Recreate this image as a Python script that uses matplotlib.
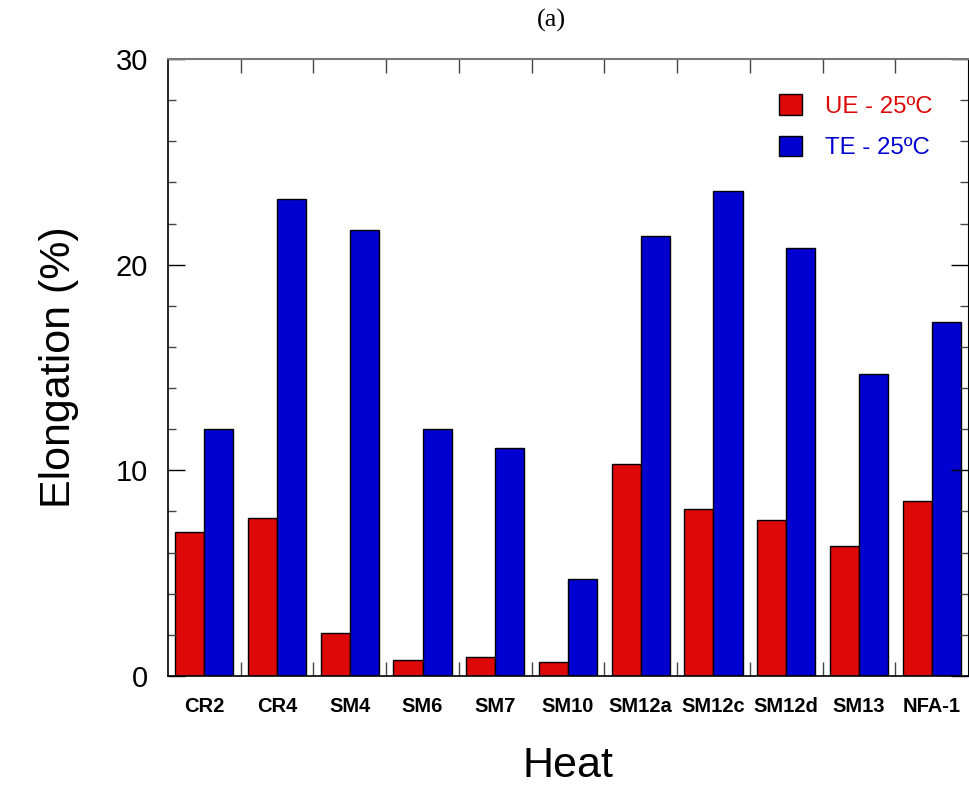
import numpy as np
import matplotlib
matplotlib.use("Agg")
import matplotlib.pyplot as plt
from matplotlib.patches import Patch
from matplotlib.ticker import MultipleLocator, FixedLocator

# Elongation at 25 C for each heat
heats = ['CR2', 'CR4', 'SM4', 'SM6', 'SM7', 'SM10',
         'SM12a', 'SM12c', 'SM12d', 'SM13', 'NFA-1']
ue_25 = [7.0, 7.7, 2.1, 0.8, 0.9, 0.7, 10.3, 8.1, 7.6, 6.3, 8.5]
te_25 = [12.0, 23.2, 21.7, 12.0, 11.1, 4.7, 21.4, 23.6, 20.8, 14.7, 17.2]

color_ue = (221/255, 8/255, 8/255)
color_te = (0/255, 0/255, 208/255)

plt.rcParams['font.family'] = 'Liberation Sans'

fig = plt.figure(figsize=(9.69, 7.86), dpi=100)
ax = fig.add_axes([168/969, 110/786, 800/969, 617/786])

x = np.arange(len(heats))
w = 0.4
ax.bar(x - w/2, ue_25, w, color=color_ue, edgecolor='black', linewidth=1.0)
ax.bar(x + w/2, te_25, w, color=color_te, edgecolor='black', linewidth=1.0)

ax.set_xlim(-0.5, len(heats) - 0.5)
ax.set_ylim(0, 30)

# category labels in the middle, tick marks between groups
ax.set_xticks(x)
ax.set_xticklabels(heats, fontsize=14.5, fontweight='bold')
ax.xaxis.set_minor_locator(FixedLocator(x[:-1] + 0.5))
ax.tick_params(axis='x', which='major', length=0, pad=15)
ax.tick_params(axis='x', which='minor', direction='in', length=10,
               width=1, top=True, bottom=True, color='#444444')

ax.yaxis.set_major_locator(MultipleLocator(10))
ax.yaxis.set_minor_locator(MultipleLocator(2))
ax.tick_params(axis='y', which='major', direction='in', length=12, width=1,
               left=True, right=True, labelsize=21, pad=14.5)
ax.tick_params(axis='y', which='minor', direction='in', length=6, width=1,
               left=True, right=True, color='#444444')

ax.spines['top'].set_color('#777777')
ax.spines['top'].set_linewidth(1.5)
ax.spines['left'].set_linewidth(1.2)
ax.spines['bottom'].set_linewidth(1.2)

ax.set_xlabel('Heat', fontsize=31, labelpad=22)
ax.set_ylabel('Elongation (%)', fontsize=31, labelpad=26)

handles = [Patch(facecolor=color_ue, edgecolor='black'),
           Patch(facecolor=color_te, edgecolor='black')]
ax.legend(handles, ['UE - 25ºC', 'TE - 25ºC'], loc='upper left',
          bbox_to_anchor=(767/969, 1 - 82/786), bbox_transform=fig.transFigure,
          frameon=False, fontsize=17.3, handlelength=0.95, handleheight=0.95,
          handletextpad=0.95, labelspacing=0.75, borderpad=0,
          labelcolor=[color_ue, color_te])

fig.text(551/969, 1 - 20/786, '(a)', family='Liberation Serif', fontsize=19,
         ha='center', va='center')

fig.savefig('out.png', dpi=100)
